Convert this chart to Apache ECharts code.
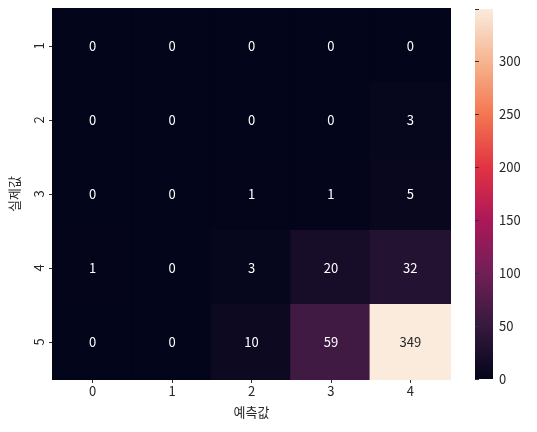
<!doctype html>
<html lang="ko">
<head>
<meta charset="UTF-8">
<title>confusion heatmap</title>
<style>
    html, body {margin: 0; padding: 0; background: #fff;}
    #chart {width: 537px; height: 432px;}
</style>
</head>
<body>
<div id="chart"></div>
<script src="https://cdn.jsdelivr.net/npm/echarts@6/dist/echarts.min.js"></script>
<script>
    // 예측값 (columns) / 실제값 (rows)
    var predLabels = ['0', '1', '2', '3', '4'];
    var trueLabels = ['1', '2', '3', '4', '5'];
    var row1 = [0, 0, 0, 0, 0];
    var row2 = [0, 0, 0, 0, 3];
    var row3 = [0, 0, 1, 1, 5];
    var row4 = [1, 0, 3, 20, 32];
    var row5 = [0, 0, 10, 59, 349];
    var rows = [row1, row2, row3, row4, row5];
    var cbarTicks = [0, 50, 100, 150, 200, 250, 300];

    var vmax = 349;
    var font = '"Noto Sans CJK KR", "Noto Sans", sans-serif';
    // rocket colormap
    var rocket = ['#03051a', '#35193e', '#701f57', '#ad1759', '#e13342', '#f37651', '#f6b48f', '#faebdd'];

    var cells = [];
    rows.forEach(function (r, i) {
        r.forEach(function (v, j) {
            cells.push({
                value: [j, i, v],
                // same colour border hides the seams between cells
                itemStyle: {borderColor: echarts.color.lerp(v / vmax, rocket), borderWidth: 1.5},
                label: {color: v / vmax > 0.6 ? '#262626' : '#ffffff'}
            });
        });
    });

    var stops = rocket.map(function (c, k) {
        return {offset: k / (rocket.length - 1), color: c};
    });

    var chart = echarts.init(document.getElementById('chart'));
    chart.setOption({
        animation: false,
        textStyle: {fontFamily: font},
        grid: [
            {left: 53, right: 87, top: 9, bottom: 53},
            {left: 475, width: 18, top: 9, bottom: 53}
        ],
        xAxis: [
            {
                type: 'category', data: predLabels, gridIndex: 0,
                name: '예측값', nameLocation: 'middle', nameGap: 27,
                nameTextStyle: {fontSize: 13, color: '#262626', fontFamily: font},
                axisLine: {show: false},
                axisTick: {show: true, alignWithLabel: true, length: 4, lineStyle: {color: '#333'}},
                axisLabel: {fontSize: 13, color: '#262626', margin: 6},
                splitLine: {show: false},
                splitArea: {show: false}
            },
            {
                type: 'value', gridIndex: 1, min: 0, max: 1, show: false
            }
        ],
        yAxis: [
            {
                type: 'category', data: trueLabels, inverse: true, gridIndex: 0,
                name: '실제값', nameLocation: 'middle', nameGap: 32,
                nameTextStyle: {fontSize: 13, color: '#262626', fontFamily: font},
                axisLine: {show: false},
                axisTick: {show: true, alignWithLabel: true, length: 4, lineStyle: {color: '#333'}},
                axisLabel: {fontSize: 13, color: '#262626', rotate: 90, margin: 7},
                splitLine: {show: false},
                splitArea: {show: false}
            },
            {
                type: 'value', gridIndex: 1, position: 'right', min: 0, max: vmax, interval: 50,
                axisLine: {show: false},
                splitLine: {show: false},
                axisTick: {show: true, length: 4, lineStyle: {color: '#333'}},
                axisLabel: {fontSize: 13, color: '#262626', margin: 6,
                    formatter: function (v) { return cbarTicks.indexOf(v) >= 0 ? v : ''; }}
            }
        ],
        visualMap: {
            type: 'continuous',
            show: false,
            min: 0, max: vmax,
            seriesIndex: 0,
            inRange: {color: rocket}
        },
        graphic: [{
            type: 'rect',
            left: 475, top: 9,
            shape: {width: 18, height: 370},
            style: {fill: new echarts.graphic.LinearGradient(0, 1, 0, 0, stops)},
            silent: true
        }],
        series: [{
            type: 'heatmap',
            xAxisIndex: 0, yAxisIndex: 0,
            data: cells,
            label: {show: true, fontSize: 13, fontFamily: font,
                formatter: function (p) { return p.value[2]; }},
            emphasis: {disabled: true}
        }]
    });
</script>
</body>
</html>
